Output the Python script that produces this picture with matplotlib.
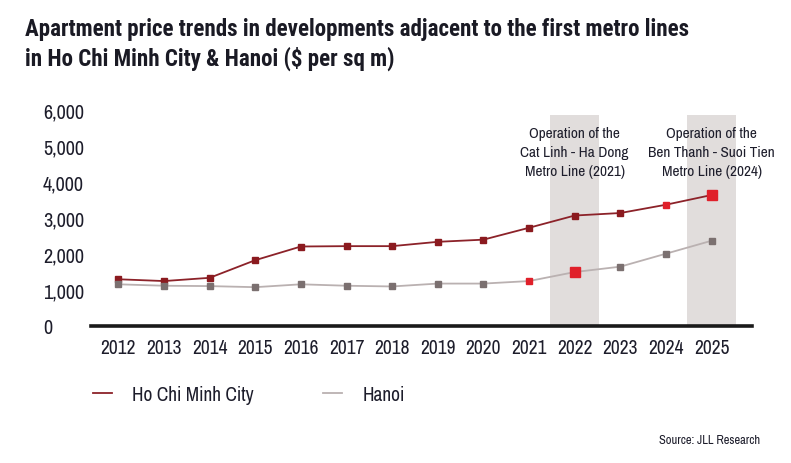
import matplotlib
matplotlib.use("Agg")
import matplotlib.pyplot as plt
from matplotlib.lines import Line2D

plt.rcParams['font.family'] = ['Archivo Narrow', 'DejaVu Sans']

years = [2012, 2013, 2014, 2015, 2016, 2017, 2018, 2019, 2020, 2021, 2022, 2023, 2024, 2025]
hcmc = [1290, 1240, 1330, 1820, 2200, 2210, 2210, 2330, 2390, 2720, 3060, 3130, 3360, 3630]
hanoi = [1150, 1110, 1100, 1070, 1150, 1110, 1090, 1170, 1170, 1240, 1490, 1640, 2000, 2360]
yticks = [0, 1000, 2000, 3000, 4000, 5000, 6000]
metro_years = [2022, 2025]
metro_notes = ["Operation of the\nCat Linh - Ha Dong\nMetro Line (2021)",
               "Operation of the\nBen Thanh - Suoi Tien\nMetro Line (2024)"]

HCMC_LINE = '#8c2229'
HCMC_MARK = '#8b1a1f'
HANOI_LINE = '#bab1b1'
HANOI_MARK = '#7b7070'
HIGHLIGHT = '#e0202a'
BAND = '#e1dddc'
TEXT = '#1d1d2b'

fig = plt.figure(figsize=(7.91, 4.64), dpi=100)
ax = fig.add_axes([91 / 791, 1 - 326.7 / 464, (751.7 - 91) / 791, (326.7 - 110.7) / 464])

# shaded columns for metro opening years
ax.bar(metro_years, [5850] * len(metro_years), width=1.06, color=BAND, zorder=0)
for yr, note in zip(metro_years, metro_notes):
    ax.text(yr, 5540, note, ha='center', va='top', fontsize=11, color=TEXT,
            linespacing=1.42, zorder=3)

ax.plot(years, hcmc, color=HCMC_LINE, lw=1.3, zorder=2)
ax.plot(years, hanoi, color=HANOI_LINE, lw=1.3, zorder=2)

# regular markers
ax.plot(years[:12], hcmc[:12], ls='none', marker='s', ms=4.5, color=HCMC_MARK, zorder=3)
ax.plot(years[:9] + years[11:], hanoi[:9] + hanoi[11:], ls='none', marker='s', ms=4.5,
        color=HANOI_MARK, zorder=3)
# highlighted markers
ax.plot([years[12]], [hcmc[12]], ls='none', marker='s', ms=4.5, color=HIGHLIGHT, zorder=3)
ax.plot([years[9]], [hanoi[9]], ls='none', marker='s', ms=4.5, color=HIGHLIGHT, zorder=3)
ax.plot([years[13]], [hcmc[13]], ls='none', marker='s', ms=7.5, color=HIGHLIGHT, zorder=4)
ax.plot([years[10]], [hanoi[10]], ls='none', marker='s', ms=7.5, color=HIGHLIGHT, zorder=4)

ax.set_xlim(2011.4, 2025.88)
ax.set_ylim(0, 6000)
ax.set_xticks(years)
ax.set_xticklabels([str(y) for y in years])
ax.set_yticks(yticks)
ax.set_yticklabels([f"{v:,}" for v in yticks])
ax.tick_params(axis='both', length=0, labelsize=14, colors=TEXT)
ax.tick_params(axis='y', labelsize=14.5, pad=34.5)
ax.tick_params(axis='x', pad=9)
for lab in ax.get_yticklabels():
    lab.set_ha('left')

for s in ['top', 'right', 'left']:
    ax.spines[s].set_visible(False)
ax.spines['bottom'].set_linewidth(2.6)
ax.spines['bottom'].set_color('#1a1a1a')
ax.spines['bottom'].set_zorder(5)

fig.text(25 / 791, 1 - 44.5 / 464,
         "Apartment price trends in developments adjacent to the first metro lines\n"
         "in Ho Chi Minh City & Hanoi ($ per sq m)",
         ha='left', va='center', fontsize=16.6, fontweight='bold', color='#1a1a24',
         linespacing=1.25, family=['Roboto Condensed', 'DejaVu Sans'])

handles = [Line2D([], [], color=HCMC_LINE, lw=1.3), Line2D([], [], color=HANOI_LINE, lw=1.3)]
fig.legend(handles, ["Ho Chi Minh City", "Hanoi"], loc='center left',
           bbox_to_anchor=(92.7 / 791, 1 - 395.7 / 464), ncol=2, frameon=False,
           fontsize=14, handlelength=1.0, handletextpad=1.03, columnspacing=3.55,
           borderpad=0, borderaxespad=0, labelcolor=TEXT)

fig.text(760 / 791, 1 - 440.7 / 464, "Source: JLL Research", ha='right', va='center',
         fontsize=9, color=TEXT)

fig.savefig("out.png", dpi=100, facecolor='white')
